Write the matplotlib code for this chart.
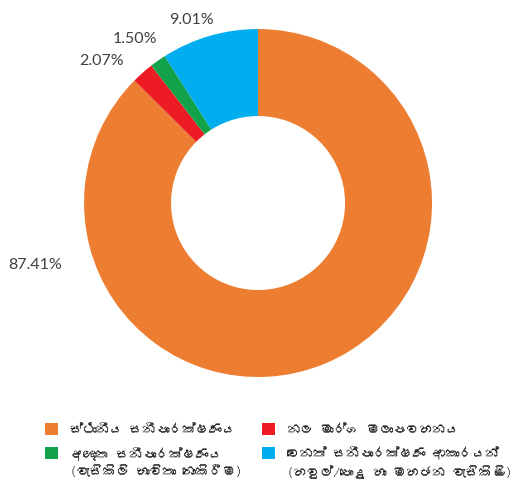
import matplotlib
matplotlib.use("Agg")
import matplotlib.pyplot as plt
from matplotlib import font_manager
from matplotlib.ft2font import FT2Font
from matplotlib.patches import Rectangle

# datos
categories = [
    "ස්ථානීය සනීපාරක්ෂණය",
    "නල මාර්ග මලාපවහනය",
    "අඥාත සනීපාරක්ෂණය\n(වැසිකිලි භාවිතා නොකිරීම)",
    "වෙනත් සනීපාරක්ෂණ ආකාරයන්\n(හවුල්/පොදු හා මහජන වැසිකිළි)",
]
values = [87.41, 2.07, 1.50, 9.01]
colors = ["#ED7D31", "#ED1C24", "#12A34A", "#00AEEF"]

# buscar una fuente con glifos cingaleses
sinhala = None
for f in font_manager.fontManager.ttflist:
    try:
        if 0x0DC3 in FT2Font(f.fname).get_charmap():
            sinhala = f.name
            break
    except Exception:
        pass
families = ([sinhala] if sinhala else []) + ["DejaVu Sans"]

W, H = 525, 485
fig = plt.figure(figsize=(W / 100, H / 100), dpi=100)
ax = fig.add_axes([0.16, 0.2206, 0.663, 0.7175])

wedges, _ = ax.pie(values, colors=colors, startangle=90, counterclock=False,
                   radius=1.0, wedgeprops=dict(width=0.5, linewidth=0))
ax.set_xlim(-1, 1)
ax.set_ylim(-1, 1)
ax.set_aspect("equal")
ax.axis("off")

# posiciones de etiquetas (coordenadas del pastel)
label_pos = [(-1.28, -0.35), (-0.90, 0.82), (-0.71, 0.95), (-0.38, 1.06)]
for v, (x, y) in zip(values, label_pos):
    ax.text(x, y, f"{v:.2f}%", ha="center", va="center", fontsize=11.5,
            color="#404040", family="Lato", clip_on=False)

# leyenda manual en píxeles (2 columnas, casilla alineada con la 1a línea)
lax = fig.add_axes([0, 0, 1, 1])
lax.set_xlim(0, W)
lax.set_ylim(H, 0)
lax.axis("off")
slots = [(45, 430), (262, 430), (45, 454), (262, 454)]  # orden: naranja, rojo, verde, azul
for (x0, y0), c, lab in zip(slots, colors, categories):
    lax.add_patch(Rectangle((x0, y0 - 6), 13, 12, facecolor=c, edgecolor="none"))
    for i, line in enumerate(lab.split("\n")):
        lax.text(x0 + 25, y0 + i * 18, line, ha="left", va="center",
                 fontsize=9.5, color="#262626", family=families)

fig.savefig("out.png", dpi=100)
